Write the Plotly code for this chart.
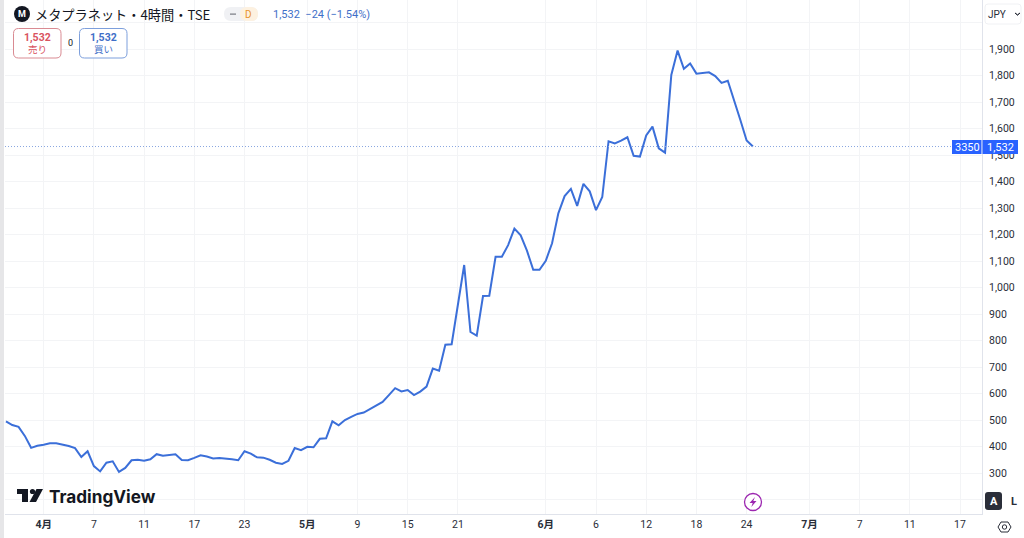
import plotly.graph_objects as go

# 4h closes, one per bar
closes = [495, 481, 474, 440, 395, 403, 407, 412, 412, 407, 402, 394, 360, 382, 326, 306,
          339, 344, 304, 319, 348, 350, 346, 352, 371, 365, 369, 371, 349, 348, 357, 367,
          362, 355, 357, 355, 352, 348, 382, 373, 359, 358, 350, 339, 334, 346, 394, 386,
          399, 397, 429, 431, 495, 480, 500, 512, 523, 528, 542, 553, 568, 594, 620, 608,
          613, 594, 607, 626, 694, 686, 784, 786, 928, 1085, 832, 818, 968, 969, 1116, 1116,
          1160, 1222, 1197, 1139, 1067, 1067, 1101, 1167, 1280, 1345, 1372, 1308, 1391, 1363, 1292, 1342,
          1552, 1544, 1554, 1567, 1497, 1494, 1574, 1607, 1525, 1509, 1802, 1894, 1825, 1845, 1807, 1809,
          1812, 1798, 1772, 1780, 1701, 1632, 1555, 1532]
bars = list(range(len(closes)))

date_bars = [6, 14, 22, 30, 38, 48, 56, 64, 72, 86, 94, 102, 110, 118, 128, 136, 144, 152]
date_labels = ['<b>4月</b>', '7', '11', '17', '23', '<b>5月</b>', '9', '15', '21',
               '<b>6月</b>', '6', '12', '18', '24', '<b>7月</b>', '7', '11', '17']
price_ticks = list(range(200, 2100, 100))
price_labels = ['' if p in (200, 2000) else f'{p:,}' for p in price_ticks]

last_close = closes[-1]
last_text = f'{last_close:,}'

W, H = 1024, 538
L, R, B = 5, 982, 514
FONT = 'Roboto, Noto Sans CJK JP, sans-serif'
JP = 'Noto Sans CJK JP, sans-serif'
BLUE = '#2962ff'
LINE = '#3b6fd9'
BORDER = '#e0e3eb'
RED = '#d9535f'
INK = '#131722'


def px(x):
    return (x - L) / (R - L)


def py(y):
    return (B - y) / B


fig = go.Figure()
fig.add_trace(go.Scatter(x=bars, y=closes, mode='lines', line=dict(color=LINE, width=2),
                         hoverinfo='skip', showlegend=False))

shapes = []
annots = []


def box(x0, y0, x1, y1, fill='rgba(0,0,0,0)', line=None, width=1):
    shapes.append(dict(type='rect', xref='paper', yref='paper', x0=px(x0), x1=px(x1), y0=py(y0), y1=py(y1),
                       fillcolor=fill, line=dict(color=line or 'rgba(0,0,0,0)', width=width if line else 0)))


def rbox(x0, y0, x1, y1, r, fill='rgba(0,0,0,0)', line=None, width=1):
    pts = [(x0 + r, y0), (x1 - r, y0), 'q', (x1, y0), (x1, y0 + r), (x1, y1 - r), 'q', (x1, y1), (x1 - r, y1),
           (x0 + r, y1), 'q', (x0, y1), (x0, y1 - r), (x0, y0 + r), 'q', (x0, y0), (x0 + r, y0)]
    d = f'M{px(pts[0][0])},{py(pts[0][1])}'
    i = 1
    while i < len(pts):
        if pts[i] == 'q':
            c, e = pts[i + 1], pts[i + 2]
            d += f' Q{px(c[0])},{py(c[1])} {px(e[0])},{py(e[1])}'
            i += 3
        else:
            d += f' L{px(pts[i][0])},{py(pts[i][1])}'
            i += 1
    shapes.append(dict(type='path', xref='paper', yref='paper', path=d + ' Z', fillcolor=fill,
                       line=dict(color=line or 'rgba(0,0,0,0)', width=width if line else 0)))


def poly(points, fill='rgba(0,0,0,0)', line=None, width=1):
    d = 'M' + ' L'.join(f'{px(x)},{py(y)}' for x, y in points) + ' Z'
    shapes.append(dict(type='path', xref='paper', yref='paper', path=d, fillcolor=fill,
                       line=dict(color=line or 'rgba(0,0,0,0)', width=width if line else 0)))


def circle(cx, cy, r, fill='rgba(0,0,0,0)', line=None, width=1):
    shapes.append(dict(type='circle', xref='paper', yref='paper', x0=px(cx - r), x1=px(cx + r),
                       y0=py(cy - r), y1=py(cy + r), fillcolor=fill,
                       line=dict(color=line or 'rgba(0,0,0,0)', width=width if line else 0)))


def text(x, y, s, size=11, color=INK, anchor='center', family=FONT):
    annots.append(dict(xref='paper', yref='paper', x=px(x), y=py(y), text=s, showarrow=False, xanchor=anchor,
                       yanchor='middle', font=dict(size=size, color=color, family=family),
                       borderpad=0, borderwidth=0))


# left edge band
box(0, 0, L - 1, H, fill='#e6e6e8')

# last price line
shapes.append(dict(type='line', xref='paper', yref='y', x0=0, x1=1, y0=last_close, y1=last_close,
                   line=dict(color='#8aa6e0', width=1, dash='1px,2px')))

# header
circle(22, 14, 8, fill='#131722')
text(22, 14, '<b>M</b>', size=9, color='white')
text(35, 14, 'メタプラネット・4時間・TSE', size=13.2, anchor='left', family=JP)
rbox(224, 7, 258, 21, 7, fill='#f0f1f4')
rbox(240, 7, 258, 21, 7, fill='#fdf1e0')
box(230, 13.3, 236, 15, fill='#9a9ca3')
text(248, 14, 'D', size=10, color='#e8932a')
text(273, 14, '1,532  −24 (−1.54%)', size=11, color='#3f6fc8', anchor='left')

rbox(13.5, 28.5, 61, 58, 5, fill='white', line='#d98a92')
text(37, 38, '<b>1,532</b>', size=10.5, color=RED)
text(37, 49, '売り', size=9.5, color=RED, family=JP)
text(70, 43, '0', size=9, color=INK)
rbox(79.5, 28.5, 127, 58, 5, fill='white', line='#7d9fdc')
text(103, 38, '<b>1,532</b>', size=10.5, color='#3f6fc8')
text(103, 49, '買い', size=9.5, color='#3f6fc8', family=JP)

# right side axis bits
rbox(985, 4, 1021, 24, 3, fill='white', line='#f0f1f4')
text(997, 14, 'JPY', size=10, color='#2a2e39')
poly([(1015, 13), (1017.5, 15), (1020, 13), (1017.5, 15)], line='#2a2e39')

box(R - 30, 140, R - 0.5, 154, fill=BLUE)
box(R + 0.5, 140, 1018, 154, fill=BLUE)
text(R - 15, 147, '3350', size=11, color='white')
text(1000, 147, last_text, size=11, color='white')

rbox(985, 492, 1002, 510, 3, fill='#2a2e39')
text(993.5, 501, '<b>A</b>', size=11, color='white')
text(1014, 501, '<b>L</b>', size=11, color='#2a2e39')
poly([(998, 527), (1001, 522), (1008, 522), (1011, 527), (1008, 532), (1001, 532)], line='#2a2e39')
circle(1004.5, 527, 2.2, line='#2a2e39')

# logo
poly([(17, 489), (28, 489), (28, 502), (22, 502), (22, 494), (17, 494)], fill='#131722')
circle(32.5, 491.5, 2.6, fill='#131722')
poly([(36.5, 489), (43, 489), (36, 502), (29.5, 502)], fill='#131722')
text(49, 496, '<b>TradingView</b>', size=17.2, color='#131722', anchor='left', family='Inter, sans-serif')

# news badge
circle(753, 502, 8.5, fill='white', line='#9c27b0', width=1.3)
poly([(755, 497), (749.5, 503), (752.7, 503), (751.3, 507), (756.5, 501), (753.3, 501)], fill='#9c27b0')

fig.update_layout(
    width=W, height=H, autosize=False,
    margin=dict(l=L, r=W - R, t=0, b=H - B, pad=0),
    paper_bgcolor='white', plot_bgcolor='white',
    hovermode=False, showlegend=False,
    shapes=shapes, annotations=annots,
    font=dict(family=FONT, size=11, color=INK),
    xaxis=dict(range=[-0.16, 155.5], tickmode='array', tickvals=date_bars, ticktext=date_labels,
               showgrid=True, gridcolor='#f3f4f6', gridwidth=1, zeroline=False,
               showline=True, linecolor=BORDER, linewidth=1, ticks='', ticklen=0,
               tickfont=dict(size=10.5, color='#2a2e39', family=FONT), fixedrange=True),
    yaxis=dict(range=[145.3, 2084.9], side='right', tickmode='array', tickvals=price_ticks, ticktext=price_labels,
               showgrid=True, gridcolor='#f3f4f6', gridwidth=1, zeroline=False,
               showline=True, linecolor=BORDER, linewidth=1, ticks='outside', ticklen=4, tickcolor='rgba(0,0,0,0)',
               tickfont=dict(size=10.5, color='#2a2e39', family=FONT), fixedrange=True),
)

fig.write_html("out.html", config={'displayModeBar': False},
               post_script="document.body.style.margin='0';")
